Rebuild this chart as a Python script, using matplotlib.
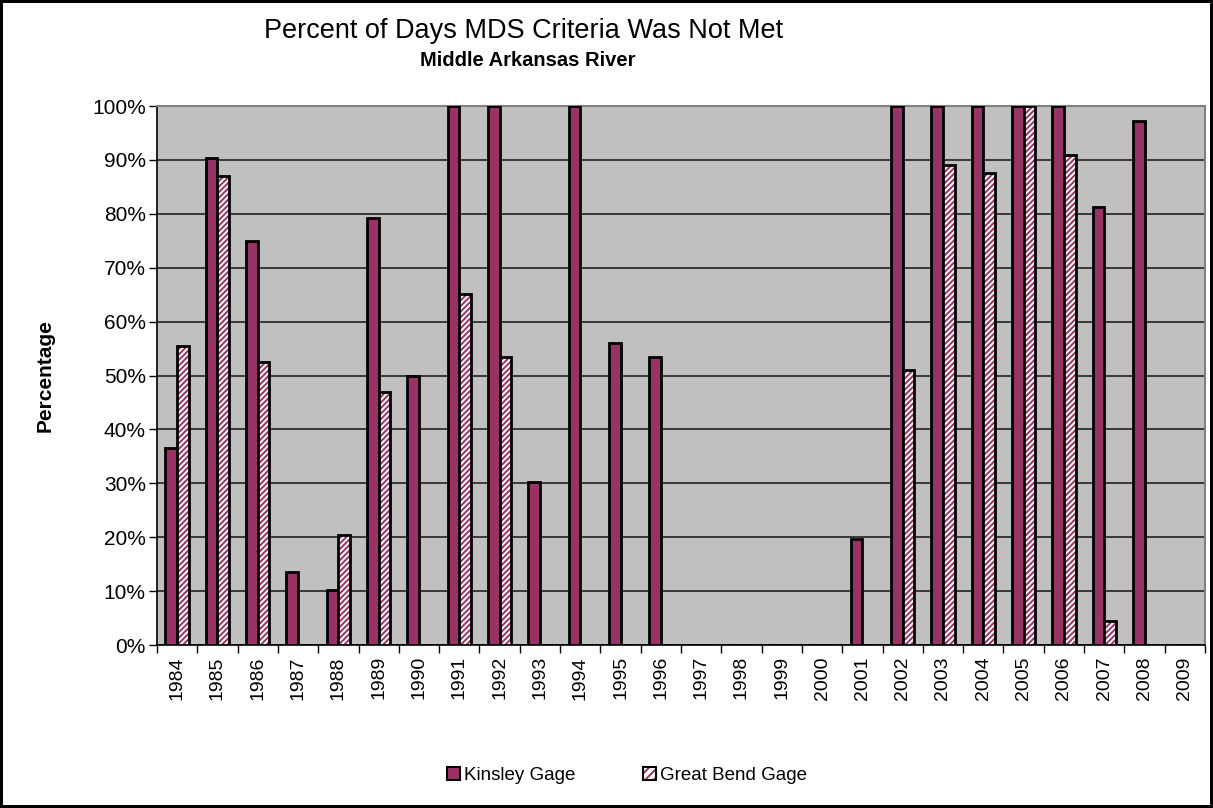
import numpy as np
import matplotlib
matplotlib.use("Agg")
import matplotlib.pyplot as plt
from matplotlib.patches import Patch
from matplotlib.legend_handler import HandlerTuple
from matplotlib.ticker import PercentFormatter

plt.rcParams['font.family'] = ['Liberation Sans', 'DejaVu Sans']
plt.rcParams['hatch.linewidth'] = 1.4

# DATA
years = [str(y) for y in range(1984, 2010)]
kinsley = [36.5, 90.3, 75, 13.5, 10.3, 79.2, 50, 100, 100, 30.2, 100, 56, 53.5,
           0, 0, 0, 0, 19.6, 100, 100, 100, 100, 100, 81.2, 97.2, 0]
great_bend = [55.5, 87, 52.5, 0, 20.5, 47, 0, 65.2, 53.5, 0, 0, 0, 0,
              0, 0, 0, 0, 0, 51, 89, 87.5, 100, 91, 4.5, 0, 0]

plum = '#993366'
hatch = '//////'

fig = plt.figure(figsize=(12.13, 8.08), dpi=100)
fig.patch.set_edgecolor('black')
fig.patch.set_linewidth(3)
ax = fig.add_axes([0.1294, 0.2017, 0.864, 0.667])
ax.set_facecolor('#C0C0C0')

x = np.arange(len(years))
w = 0.29
ax.bar(x - w / 2, kinsley, w, color=plum, edgecolor='black', linewidth=2, zorder=3)
# hatched bars: stripes first, then black outline on top
ax.bar(x + w / 2, great_bend, w, color='white', edgecolor=plum, hatch=hatch,
       linewidth=0, zorder=3)
ax.bar(x + w / 2, great_bend, w, fill=False, edgecolor='black', linewidth=2, zorder=4)

ax.set_xlim(-0.5, len(years) - 0.5)
ax.set_ylim(0, 100)
ax.set_yticks(np.arange(0, 101, 10))
ax.yaxis.set_major_formatter(PercentFormatter(decimals=0))
ax.grid(axis='y', color='#222222', linewidth=1.2, zorder=1)
ax.set_axisbelow(True)

ax.set_xticks(x)
ax.set_xticklabels(years, rotation=90, fontsize=14)
ax.set_xticks(np.arange(-0.5, len(years)), minor=True)
ax.tick_params(axis='x', which='major', length=0, pad=8)
ax.tick_params(axis='x', which='minor', length=6, width=1, direction='out')
ax.tick_params(axis='y', labelsize=15, length=6, width=1, direction='out', pad=2)

for s in ['top', 'right']:
    ax.spines[s].set_color('#808080')
    ax.spines[s].set_linewidth(1.5)
for s in ['left', 'bottom']:
    ax.spines[s].set_color('black')
    ax.spines[s].set_linewidth(1.2)

ax.set_ylabel('Percentage', fontsize=15, fontweight='bold', labelpad=27)

fig.text(0.432, 0.962, 'Percent of Days MDS Criteria Was Not Met', ha='center', va='center',
         fontsize=19.5)
fig.text(0.435, 0.925, 'Middle Arkansas River', ha='center', va='center',
         fontsize=14.5, fontweight='bold')

h1 = Patch(facecolor=plum, edgecolor='black', linewidth=1.5)
h2a = Patch(facecolor='white', edgecolor=plum, hatch='////', linewidth=0)
h2b = Patch(fill=False, edgecolor='black', linewidth=1.5)
fig.legend([h1, (h2a, h2b)], ['Kinsley Gage', 'Great Bend Gage'],
           handler_map={tuple: HandlerTuple(ndivide=1)},
           loc='center', bbox_to_anchor=(0.517, 0.04), ncol=2, frameon=False,
           fontsize=13.5, handlelength=0.7, handleheight=0.7, handletextpad=0.2,
           columnspacing=3.6)

fig.savefig('out.png', dpi=100)
